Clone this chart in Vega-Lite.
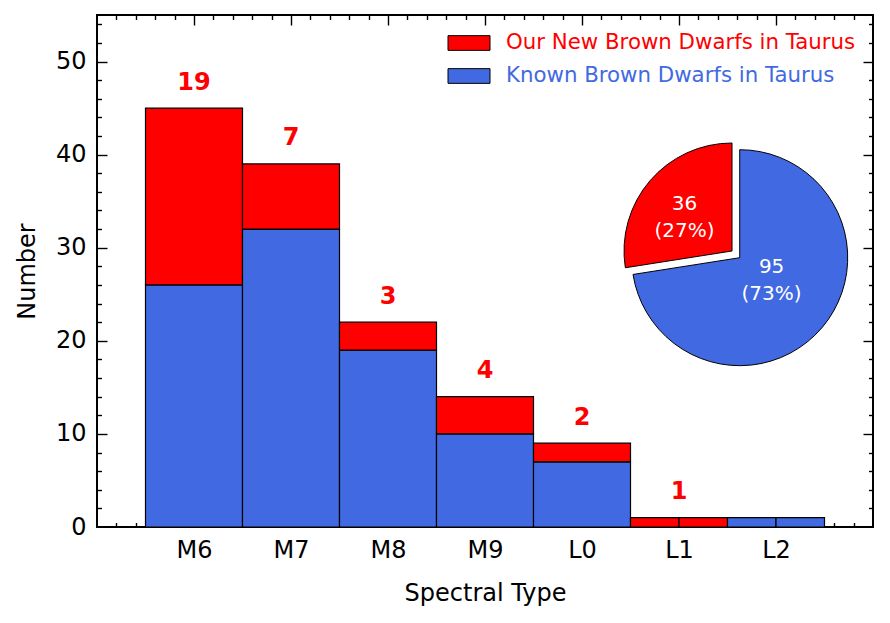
{
  "$schema": "https://vega.github.io/schema/vega-lite/v6.json",
  "width": 776,
  "height": 512,
  "autosize": {"type": "none"},
  "padding": {"left": 97, "top": 15, "right": 17, "bottom": 96},
  "config": {
    "font": "DejaVu Sans",
    "view": {"stroke": "black", "strokeWidth": 2},
    "axis": {
      "domain": false,
      "grid": false,
      "labelFont": "DejaVu Sans",
      "titleFont": "DejaVu Sans",
      "labelColor": "black",
      "titleColor": "black",
      "tickColor": "black",
      "tickWidth": 1.4,
      "labelFontSize": 24,
      "titleFontSize": 24,
      "titleFontWeight": "normal"
    }
  },
  "datasets": {
    "bars": [
      {"spt": "M6", "x0": -0.5, "x1": 0.5, "group": "Known Brown Dwarfs in Taurus", "n": 26},
      {"spt": "M6", "x0": -0.5, "x1": 0.5, "group": "Our New Brown Dwarfs in Taurus", "n": 19},
      {"spt": "M7", "x0": 0.5, "x1": 1.5, "group": "Known Brown Dwarfs in Taurus", "n": 32},
      {"spt": "M7", "x0": 0.5, "x1": 1.5, "group": "Our New Brown Dwarfs in Taurus", "n": 7},
      {"spt": "M8", "x0": 1.5, "x1": 2.5, "group": "Known Brown Dwarfs in Taurus", "n": 19},
      {"spt": "M8", "x0": 1.5, "x1": 2.5, "group": "Our New Brown Dwarfs in Taurus", "n": 3},
      {"spt": "M9", "x0": 2.5, "x1": 3.5, "group": "Known Brown Dwarfs in Taurus", "n": 10},
      {"spt": "M9", "x0": 2.5, "x1": 3.5, "group": "Our New Brown Dwarfs in Taurus", "n": 4},
      {"spt": "L0", "x0": 3.5, "x1": 4.5, "group": "Known Brown Dwarfs in Taurus", "n": 7},
      {"spt": "L0", "x0": 3.5, "x1": 4.5, "group": "Our New Brown Dwarfs in Taurus", "n": 2},
      {"spt": "L1", "x0": 4.5, "x1": 5.0, "group": "Our New Brown Dwarfs in Taurus", "n": 1},
      {"spt": "L1", "x0": 5.0, "x1": 5.5, "group": "Our New Brown Dwarfs in Taurus", "n": 1},
      {"spt": "L2", "x0": 5.5, "x1": 6.0, "group": "Known Brown Dwarfs in Taurus", "n": 1},
      {"spt": "L2", "x0": 6.0, "x1": 6.5, "group": "Known Brown Dwarfs in Taurus", "n": 1}
    ],
    "labels": [
      {"spt": "M6", "pos": 0, "total": 45, "new": 19},
      {"spt": "M7", "pos": 1, "total": 39, "new": 7},
      {"spt": "M8", "pos": 2, "total": 22, "new": 3},
      {"spt": "M9", "pos": 3, "total": 14, "new": 4},
      {"spt": "L0", "pos": 4, "total": 9, "new": 2},
      {"spt": "L1", "pos": 5, "total": 1, "new": 1}
    ],
    "pie": [
      {"group": "Known Brown Dwarfs in Taurus", "count": 95, "label": "95\n(73%)"},
      {"group": "Our New Brown Dwarfs in Taurus", "count": 36, "label": "36\n(27%)"}
    ]
  },
  "layer": [
    {
      "data": {"name": "bars"},
      "transform": [
        {"stack": "n", "groupby": ["x0"], "sort": [{"field": "group", "order": "ascending"}], "as": ["y0", "y1"]}
      ],
      "mark": {"type": "bar", "stroke": "black", "strokeWidth": 1.2},
      "encoding": {
        "x": {
          "field": "x0",
          "type": "quantitative",
          "scale": {"domain": [-1, 7], "nice": false, "zero": false},
          "axis": {
            "orient": "bottom",
            "title": "Spectral Type",
            "ticks": false,
            "values": [0, 1, 2, 3, 4, 5, 6],
            "labelExpr": "['M6','M7','M8','M9','L0','L1','L2'][datum.value]",
            "labelPadding": 11,
            "titlePadding": 19
          }
        },
        "x2": {"field": "x1"},
        "y": {
          "field": "y0",
          "type": "quantitative",
          "scale": {"domain": [0, 55], "nice": false},
          "axis": {
            "orient": "left",
            "title": "Number",
            "ticks": false,
            "values": [0, 10, 20, 30, 40, 50],
            "labelPadding": 11,
            "titlePadding": 16
          }
        },
        "y2": {"field": "y1"},
        "color": {
          "field": "group",
          "type": "nominal",
          "scale": {
            "domain": ["Our New Brown Dwarfs in Taurus", "Known Brown Dwarfs in Taurus"],
            "range": ["#ff0000", "#4169e1"]
          },
          "legend": {
            "orient": "top-right",
            "offset": 17,
            "title": null,
            "padding": 0,
            "labelFont": "DejaVu Sans",
            "labelFontSize": 21.3,
            "labelLimit": 500,
            "labelOffset": 26,
            "rowPadding": 11,
            "symbolType": "M-2,-0.7H2V0.7H-2Z",
            "symbolSize": 441,
            "symbolStrokeColor": "black",
            "symbolStrokeWidth": 1,
            "symbolOpacity": 1,
            "encode": {
              "labels": {
                "update": {
                  "fill": {"signal": "datum.value === 'Known Brown Dwarfs in Taurus' ? '#4169e1' : '#ff0000'"}
                }
              }
            }
          }
        },
        "opacity": {"value": 1}
      }
    },
    {
      "data": {"name": "labels"},
      "mark": {"type": "text", "color": "#ff0000", "fontWeight": "bold", "fontSize": 24, "baseline": "alphabetic", "dy": -18.5},
      "encoding": {
        "x": {
          "field": "pos",
          "type": "quantitative",
          "axis": {
            "orient": "bottom",
            "labels": false,
            "title": null,
            "values": [-0.8, -0.6, -0.4, -0.2, 0, 0.2, 0.4, 0.6, 0.8, 1, 1.2, 1.4, 1.6, 1.8, 2, 2.2, 2.4, 2.6, 2.8, 3, 3.2, 3.4, 3.6, 3.8, 4, 4.2, 4.4, 4.6, 4.8, 5, 5.2, 5.4, 5.6, 5.8, 6, 6.2, 6.4, 6.6, 6.8],
            "tickSize": {"condition": {"test": "abs(datum.value - round(datum.value)) < 0.01", "value": -10}, "value": -4.5}
          }
        },
        "y": {
          "field": "total",
          "type": "quantitative",
          "axis": {
            "orient": "left",
            "labels": false,
            "title": null,
            "values": [2, 4, 6, 8, 10, 12, 14, 16, 18, 20, 22, 24, 26, 28, 30, 32, 34, 36, 38, 40, 42, 44, 46, 48, 50, 52, 54],
            "tickSize": {"condition": {"test": "datum.value % 10 === 0", "value": -10}, "value": -4.5}
          }
        },
        "text": {"field": "new", "type": "quantitative"}
      }
    },
    {
      "data": {"name": "pie"},
      "transform": [
        {"stack": "count", "groupby": [], "sort": [{"field": "group", "order": "ascending"}], "as": ["t0", "t1"]},
        {"filter": "datum.group === 'Known Brown Dwarfs in Taurus'"}
      ],
      "mark": {"type": "arc", "outerRadius": 108, "stroke": "black", "strokeWidth": 1, "color": "#4169e1"},
      "encoding": {
        "x": {
          "datum": 5.626,
          "type": "quantitative",
          "axis": {
            "orient": "top",
            "labels": false,
            "title": null,
            "values": [-0.8, -0.6, -0.4, -0.2, 0, 0.2, 0.4, 0.6, 0.8, 1, 1.2, 1.4, 1.6, 1.8, 2, 2.2, 2.4, 2.6, 2.8, 3, 3.2, 3.4, 3.6, 3.8, 4, 4.2, 4.4, 4.6, 4.8, 5, 5.2, 5.4, 5.6, 5.8, 6, 6.2, 6.4, 6.6, 6.8],
            "tickSize": {"condition": {"test": "abs(datum.value - round(datum.value)) < 0.01", "value": -10}, "value": -4.5}
          }
        },
        "y": {
          "datum": 28.93,
          "type": "quantitative",
          "axis": {
            "orient": "right",
            "labels": false,
            "title": null,
            "values": [2, 4, 6, 8, 10, 12, 14, 16, 18, 20, 22, 24, 26, 28, 30, 32, 34, 36, 38, 40, 42, 44, 46, 48, 50, 52, 54],
            "tickSize": {"condition": {"test": "datum.value % 10 === 0", "value": -10}, "value": -4.5}
          }
        },
        "theta": {"field": "t0", "type": "quantitative", "scale": {"domain": [0, 131], "nice": false, "zero": true}},
        "theta2": {"field": "t1"}
      }
    },
    {
      "data": {"name": "pie"},
      "transform": [
        {"stack": "count", "groupby": [], "sort": [{"field": "group", "order": "ascending"}], "as": ["t0", "t1"]},
        {"filter": "datum.group === 'Our New Brown Dwarfs in Taurus'"}
      ],
      "mark": {"type": "arc", "outerRadius": 108, "stroke": "black", "strokeWidth": 1, "color": "#ff0000", "xOffset": -7.7, "yOffset": -6.7},
      "encoding": {
        "x": {"datum": 5.626, "type": "quantitative", "axis": null},
        "y": {"datum": 28.93, "type": "quantitative", "axis": null},
        "theta": {"field": "t0", "type": "quantitative"},
        "theta2": {"field": "t1"}
      }
    },
    {
      "data": {"name": "pie"},
      "transform": [{"filter": "datum.group === 'Known Brown Dwarfs in Taurus'"}],
      "mark": {"type": "text", "color": "white", "fontSize": 20, "lineBreak": "\n", "lineHeight": 27, "align": "center", "baseline": "middle", "theta": 2.185, "radius": 39, "dy": -13.5},
      "encoding": {
        "x": {"datum": 5.626, "type": "quantitative", "axis": null},
        "y": {"datum": 28.93, "type": "quantitative", "axis": null},
        "text": {"field": "label", "type": "nominal"}
      }
    },
    {
      "data": {"name": "pie"},
      "transform": [{"filter": "datum.group === 'Our New Brown Dwarfs in Taurus'"}],
      "mark": {"type": "text", "color": "white", "fontSize": 20, "lineBreak": "\n", "lineHeight": 27, "align": "center", "baseline": "middle", "theta": 5.322, "radius": 58, "xOffset": -7.7, "yOffset": -6.7, "dy": -13.5},
      "encoding": {
        "x": {"datum": 5.626, "type": "quantitative", "axis": null},
        "y": {"datum": 28.93, "type": "quantitative", "axis": null},
        "text": {"field": "label", "type": "nominal"}
      }
    }
  ],
  "resolve": {"axis": {"x": "independent", "y": "independent"}}
}
